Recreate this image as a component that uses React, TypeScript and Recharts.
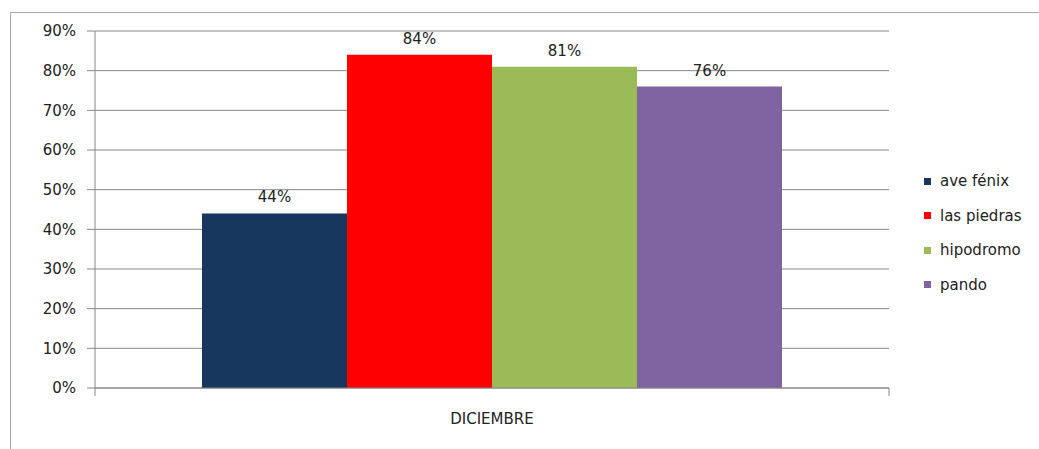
import React from 'react';
import { BarChart, Bar, XAxis, YAxis, CartesianGrid, Legend, LabelList } from 'recharts';

const categories = ['DICIEMBRE'];
const seriesNames = ['ave fénix', 'las piedras', 'hipodromo', 'pando'];
const aveFenix = [44];
const lasPiedras = [84];
const hipodromo = [81];
const pando = [76];
const yTicks = [0, 10, 20, 30, 40, 50, 60, 70, 80, 90];
const colors = ['#17375E', '#FF0000', '#9BBB59', '#8064A2'];
const keys = ['aveFenix', 'lasPiedras', 'hipodromo', 'pando'];

const data = categories.map((c, i) => ({
  name: c,
  aveFenix: aveFenix[i],
  lasPiedras: lasPiedras[i],
  hipodromo: hipodromo[i],
  pando: pando[i],
}));

const FONT = '"DejaVu Sans", Verdana, sans-serif';
const GRID = '#878787';

const XTick = (props: any) => {
  const { x, y, width, payload } = props;
  const left = x - width / 2;
  const right = x + width / 2;
  return (
    <g>
      <line x1={left} y1={y - 8} x2={left} y2={y} stroke={GRID} />
      <line x1={right} y1={y - 8} x2={right} y2={y} stroke={GRID} />
      <text x={x} y={y + 28} textAnchor="middle" fontSize={15} fill="#222" fontFamily={FONT}>
        {payload.value}
      </text>
    </g>
  );
};

const LegendContent = (props: any) => {
  const { payload } = props;
  const items = [...(payload || [])].sort(
    (a: any, b: any) => seriesNames.indexOf(a.value) - seriesNames.indexOf(b.value)
  );
  return (
    <div style={{ fontFamily: FONT, fontSize: 15, color: '#222' }}>
      {items.map((p: any, i: number) => (
        <div key={i} style={{ height: 34.5, display: 'flex', alignItems: 'center' }}>
          <span style={{ display: 'inline-block', width: 7, height: 7, background: p.color, marginRight: 9 }} />
          <span>{p.value}</span>
        </div>
      ))}
    </div>
  );
};

export default function App() {
  return (
    <div style={{ position: 'absolute', left: 0, top: 0, width: 1039, height: 449, overflow: 'hidden', background: '#fff' }}>
      <div style={{ position: 'absolute', left: 10, top: 12, width: 1100, height: 500, border: '1px solid #a6a6a6' }} />
      <div style={{ position: 'absolute', left: 0, top: 0 }}>
        <BarChart
          width={1039}
          height={449}
          data={data}
          margin={{ top: 31, right: 150, bottom: 31, left: 0 }}
          barCategoryGap={107}
          barGap={0}
        >
          <CartesianGrid vertical={false} stroke={GRID} strokeDasharray="" />
          <XAxis
            dataKey="name"
            height={30}
            axisLine={{ stroke: GRID }}
            tickLine={false}
            tick={<XTick />}
            interval={0}
          />
          <YAxis
            width={95}
            domain={[0, 90]}
            ticks={yTicks}
            interval={0}
            tickFormatter={(v: number) => `${v}%`}
            axisLine={{ stroke: GRID }}
            tickLine={{ stroke: GRID }}
            tickSize={8}
            tickMargin={11}
            tick={{ fontSize: 15, fill: '#222', fontFamily: FONT }}
          />
          <Legend
            layout="vertical"
            align="center"
            verticalAlign="middle"
            itemSorter={null as any}
            content={<LegendContent />}
            wrapperStyle={{ left: 924, top: 164, width: 115 }}
          />
          {keys.map((k, i) => (
            <Bar key={k} dataKey={k} name={seriesNames[i]} fill={colors[i]} isAnimationActive={false}>
              <LabelList
                dataKey={k}
                position="top"
                offset={11}
                formatter={(v: any) => `${v}%`}
                style={{ fontSize: 15, fill: '#222', fontFamily: FONT }}
              />
            </Bar>
          ))}
        </BarChart>
      </div>
    </div>
  );
}
